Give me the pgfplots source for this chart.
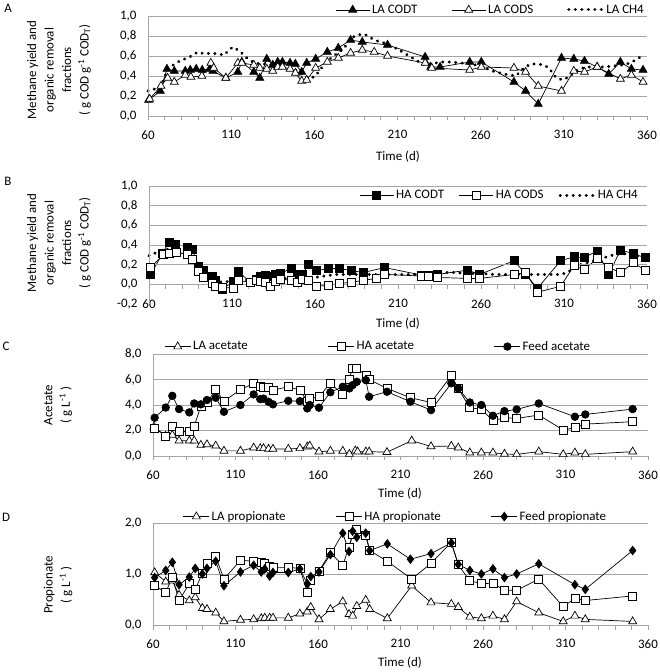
\documentclass[border=0pt]{standalone}
\usepackage{fontspec}
\setmainfont{Carlito}
\usepackage{pgfplots}
\pgfplotsset{compat=1.18}
\definecolor{axisgray}{RGB}{165,165,165}
\newcommand{\fs}{\fontsize{13}{17.5}\selectfont}

\pgfplotsset{
  panel/.style={
    scale only axis,
    xmin=60, xmax=360,
    xtick={60,110,...,360},
    major tick length=0pt, minor tick length=0pt,
    tick style={draw=none},
    axis line style={draw=none},
    major grid style={draw=axisgray, line width=0.8pt},
    tick label style={font=\fs},
    /pgf/number format/assume math mode=true,
    yticklabel style={xshift=-8bp},
    xticklabel style={yshift=-11bp},
    clip=false,
    legend style={font=\fs, draw=none, fill=none, legend columns=3, inner sep=1bp},
    legend cell align=left,
    legend image code/.code={\draw[mark repeat=2, mark phase=2, ##1] plot coordinates {(0bp,0bp) (17bp,0bp) (34bp,0bp)};},
  },
  codt/.style={black, line width=0.7pt, mark=triangle*, mark size=4.6bp, mark options={fill=black, solid}},
  cods/.style={black, line width=0.7pt, mark=triangle*, mark size=4.6bp, mark options={fill=white, solid}},
  sqf/.style={black, line width=0.7pt, mark=square*, mark size=4bp, mark options={fill=black, solid}},
  sqo/.style={black, line width=0.7pt, mark=square*, mark size=4bp, mark options={fill=white, solid}},
  circf/.style={black, line width=0.7pt, mark=*, mark size=3.8bp, mark options={fill=black, solid}},
  diaf/.style={black, line width=0.7pt, mark=diamond*, mark size=4.3bp, mark options={fill=black, solid}},
  ch4/.style={black, line width=3.2pt, line cap=round, dash pattern=on 0.1pt off 6.4bp, mark=none},
}
\newcommand{\deco}{%
  \draw[axisgray, line width=0.8pt] (rel axis cs:0,0) -- (rel axis cs:0,1);
  \draw[axisgray, line width=0.8pt] (axis cs:60,0) -- (axis cs:360,0);
  \pgfplotsinvokeforeach{60,70,...,360}{\draw[axisgray, line width=0.8pt] (axis cs:##1,0) -- ++(0pt,-4.5bp);}}

\begin{document}
\begin{tikzpicture}
\useasboundingbox (0bp,0bp) rectangle (660bp,672bp);

% ---------------- Panel A ----------------
\begin{axis}[panel, at={(148bp,556bp)}, anchor=south west, width=499bp, height=100bp,
  ymin=0, ymax=1, ytick={0,0.2,0.4,0.6,0.8,1.0}, ymajorgrids,
  yticklabels={{0,0},{0,2},{0,4},{0,6},{0,8},{1,0}},
  legend style={at={(1,1)}, anchor=south east, yshift=-2bp, /tikz/every even column/.append style={column sep=32bp}}]
\addplot[codt] coordinates {(60.4,0.16)(67.4,0.25)(71.4,0.47)(75.8,0.45)(82.4,0.45)(85.4,0.46)(89,0.47)(92.6,0.46)(97.4,0.47)(99,0.45)(106.8,0.38)(114,0.44)(116.4,0.54)(123.6,0.44)(127.2,0.38)(131.4,0.57)(135,0.51)(138,0.54)(140.8,0.54)(145.4,0.53)(148.6,0.52)(152.4,0.44)(155.4,0.53)(160.8,0.57)(167.8,0.64)(174.4,0.68)(181.8,0.76)(188.8,0.74)(204,0.71)(226.6,0.59)(230,0.49)(235.6,0.49)(253.4,0.54)(260.4,0.54)(280,0.34)(287,0.25)(294.6,0.12)(308.6,0.58)(316,0.57)(322.4,0.55)(330,0.49)(337,0.42)(344,0.54)(350.6,0.47)(357.6,0.46)};
\addlegendentry{LA CODT}
\addplot[cods] coordinates {(61,0.17)(67.8,0.30)(71.8,0.38)(75.8,0.34)(82.4,0.41)(85.8,0.39)(92.4,0.40)(97.8,0.53)(99.5,0.48)(106.8,0.38)(114,0.53)(116.4,0.53)(123.6,0.51)(127.2,0.48)(131.4,0.47)(135,0.45)(138,0.49)(140.8,0.49)(145.4,0.47)(148.6,0.43)(152.4,0.35)(155.4,0.36)(160.8,0.48)(167.8,0.54)(174.4,0.58)(181.8,0.63)(188.8,0.66)(196,0.64)(204,0.60)(226.6,0.53)(230.6,0.48)(253.4,0.46)(260.4,0.49)(280,0.48)(287,0.44)(294.6,0.30)(308.6,0.25)(316,0.45)(322.4,0.44)(330,0.49)(344,0.37)(350.6,0.41)(357.6,0.34)};
\addlegendentry{LA CODS}
\addplot[ch4] coordinates {(60,0.25)(64,0.27)(68,0.30)(72,0.47)(76,0.52)(80,0.56)(84,0.58)(88,0.62)(90,0.64)(94,0.62)(98,0.63)(102,0.62)(106,0.61)(108,0.65)(111,0.69)(114,0.66)(117,0.62)(120,0.57)(124,0.53)(128,0.52)(132,0.52)(136,0.50)(140,0.50)(144,0.49)(148,0.47)(152,0.42)(156,0.38)(160,0.39)(163,0.45)(166,0.52)(170,0.58)(174,0.63)(178,0.68)(182,0.78)(186,0.81)(190,0.82)(194,0.78)(198,0.75)(202,0.73)(206,0.70)(210,0.67)(214,0.63)(218,0.59)(222,0.55)(226,0.51)(230,0.52)(236,0.54)(242,0.54)(248,0.53)(254,0.52)(260,0.50)(267,0.45)(274,0.42)(281,0.40)(286,0.48)(290,0.52)(294,0.52)(298,0.51)(301,0.48)(305,0.39)(309,0.36)(313,0.39)(317,0.45)(323,0.49)(328,0.49)(334,0.49)(340,0.50)(345,0.51)(350,0.53)(356,0.59)};
\addlegendentry{LA CH4}
\deco
\end{axis}

% ---------------- Panel B ----------------
\begin{axis}[panel, at={(149bp,368bp)}, anchor=south west, width=498bp, height=118bp,
  ymin=-0.2, ymax=1, ytick={-0.2,0,0.2,0.4,0.6,0.8,1.0},
  yticklabels={{-0,2},{0,0},{0,2},{0,4},{0,6},{0,8},{1,0}},
  xticklabel style={yshift=19bp},
  legend style={at={(1,1)}, anchor=north east, xshift=-6bp, yshift=-1bp, /tikz/every even column/.append style={column sep=13bp}}]
\addplot[sqf] coordinates {(61,0.10)(68,0.31)(72,0.43)(76,0.41)(83,0.38)(86,0.36)(90,0.18)(93,0.14)(98,0.08)(100,0.04)(104,-0.05)(111,0.03)(114,0.13)(121,0.02)(124.4,0.05)(127,0.08)(130,0.09)(133,0.08)(136,0.10)(139,0.11)(145.5,0.16)(149.5,0.10)(152.5,0.10)(156,0.20)(161,0.14)(168,0.16)(174.7,0.16)(181.7,0.14)(189,0.12)(202,0.17)(224,0.095)(228.5,0.095)(233.6,0.10)(252,0.145)(259,0.10)(280,0.24)(287,0.10)(294,-0.04)(308,0.24)(316,0.28)(322,0.27)(330,0.34)(337,0.10)(344,0.35)(352,0.31)(359,0.27)};
\addlegendentry{HA CODT}
\addplot[sqo] coordinates {(61,0.17)(68.5,0.30)(72.5,0.32)(76.5,0.33)(83,0.30)(86,0.25)(90,0.13)(93,0.07)(98,0.01)(100,-0.02)(104,-0.03)(111,-0.04)(114,0.04)(121,0.02)(124.4,0.04)(127,0.03)(130,0.02)(133,-0.02)(136,0.03)(139,0.05)(145.5,0.045)(149.5,0.02)(152.5,0.05)(156,0.04)(161,-0.02)(168,-0.01)(174.7,0.01)(181.7,0.02)(189,0.04)(197,0.06)(202,0.10)(224,0.085)(228.5,0.08)(233.6,0.07)(252,0.06)(259,0.06)(280,0.10)(287,0.12)(294,-0.08)(308,-0.02)(316,0.19)(322,0.15)(330,0.26)(337,0.17)(344,0.12)(352,0.22)(359,0.14)};
\addlegendentry{HA CODS}
\addplot[ch4] coordinates {(60,0.29)(64,0.32)(68,0.34)(72,0.36)(76,0.35)(80,0.32)(84,0.28)(88,0.20)(92,0.12)(96,0.07)(100,0.04)(104,0.02)(108,0.03)(112,0.04)(116,0.05)(120,0.04)(124,0.05)(128,0.06)(132,0.06)(136,0.07)(140,0.06)(144,0.06)(148,0.05)(152,0.05)(156,0.06)(160,0.07)(164,0.08)(168,0.09)(172,0.10)(180,0.10)(190,0.10)(200,0.10)(210,0.10)(220,0.10)(230,0.10)(236,0.12)(244,0.12)(252,0.11)(260,0.11)(268,0.10)(276,0.10)(284,0.10)(292,0.10)(300,0.10)(308,0.10)(312,0.12)(316,0.17)(320,0.20)(324,0.22)(328,0.24)(332,0.26)(336,0.28)(340,0.30)(344,0.31)(348,0.31)(352,0.30)(356,0.28)};
\addlegendentry{HA CH4}
\pgfplotsinvokeforeach{0.2,0.4,0.6,0.8,1.0}{\draw[axisgray, line width=0.8pt] (axis cs:60,#1) -- (axis cs:360,#1);}
\deco
\end{axis}

% ---------------- Panel C ----------------
\begin{axis}[panel, at={(153bp,216bp)}, anchor=south west, width=495bp, height=102bp,
  ymin=0, ymax=8, ytick={0,2,4,6,8}, ymajorgrids,
  yticklabels={{0,0},{2,0},{4,0},{6,0},{8,0}},
  legend style={at={(0.455,1)}, anchor=south, yshift=-1bp, /tikz/every even column/.append style={column sep=78bp}},
  legend image code/.code={\draw[mark repeat=2, mark phase=2, #1] plot coordinates {(0bp,0bp) (13bp,0bp) (26bp,0bp)};}]
\addplot[cods] coordinates {(60.6,2.3)(67.7,1.57)(71.7,1.65)(75.8,1.2)(82,1.2)(85,1.2)(89,0.86)(92.7,0.9)(98,0.8)(103,0.4)(113,0.4)(121,0.65)(125,0.6)(127,0.6)(130,0.55)(132.7,0.55)(142,0.55)(149,0.6)(153.5,0.73)(155,0.8)(160.6,0.34)(167.5,0.4)(175,0.4)(179,0.15)(182.6,0.42)(184,0.34)(189,0.34)(191,0.34)(201.8,0.3)(216.8,1.2)(228.5,0.75)(240.8,0.78)(245,0.65)(252,0.26)(259,0.26)(266,0.26)(273,0.16)(280.4,0.13)(293.8,0.34)(308.6,0.13)(315.7,0.26)(322,0.13)(350.7,0.34)};
\addlegendentry{LA acetate}
\addplot[sqo] coordinates {(61,2.2)(67.7,1.57)(71.7,2.35)(75.8,1.96)(82,1.9)(85,2.35)(89,3.9)(92.7,4.2)(98,5.2)(103,4.3)(113,5.2)(121,5.7)(125,5.5)(127,5.35)(130,5.35)(132.7,5.17)(142,5.43)(149,5.17)(153.5,4.3)(155,4.5)(160.6,4.65)(167.5,5.7)(175,4.83)(178.8,6.03)(181,6.87)(183.5,6.87)(189,6.35)(191,6.0)(201.8,5.3)(216,4.57)(228.5,4.2)(240.8,6.3)(245,5.3)(252,3.79)(259,3.66)(266,2.77)(273,3.0)(280.4,2.95)(293.8,3.21)(308.6,2.04)(315.7,2.22)(322,2.5)(350.7,2.69)};
\addlegendentry{HA acetate}
\addplot[circf] coordinates {(61,3.0)(67.7,3.8)(71.7,4.72)(75.8,3.68)(82,3.42)(85,4.12)(89,4.05)(92.7,4.39)(98,4.57)(103,3.47)(113,4.0)(121,4.83)(125,4.46)(127,4.5)(130,4.25)(132.7,4.05)(142,4.33)(149,4.3)(153.5,3.73)(155,4.0)(160.6,3.79)(167.5,5.0)(175,5.43)(179,5.3)(181,5.56)(183.5,5.82)(189,5.95)(191,4.65)(201.8,5.04)(216,4.26)(228.5,3.6)(240.8,5.7)(245,5.3)(252,4.2)(259,4.0)(266,3.16)(273,3.52)(280.4,3.65)(293.8,4.12)(315.7,3.08)(322,3.26)(350.7,3.68)};
\addlegendentry{Feed acetate}
\deco
\end{axis}

% ---------------- Panel D ----------------
\begin{axis}[panel, at={(153bp,47bp)}, anchor=south west, width=495bp, height=102bp,
  ymin=0, ymax=2, ytick={0,1,2}, ymajorgrids,
  yticklabels={{0,0},{1,0},{2,0}},
  legend style={at={(0.49,1)}, anchor=south, yshift=-2bp, /tikz/every even column/.append style={column sep=48bp}},
  legend image code/.code={\draw[mark repeat=2, mark phase=2, #1] plot coordinates {(0bp,0bp) (13bp,0bp) (26bp,0bp)};}]
\addplot[cods] coordinates {(61,1.03)(67.7,0.85)(71.7,0.87)(75.8,0.59)(82,0.48)(85.6,0.54)(89.9,0.33)(92.7,0.31)(98,0.24)(103,0.07)(113,0.1)(121,0.11)(125.6,0.13)(127.7,0.14)(130.7,0.14)(132.7,0.14)(142,0.14)(149,0.22)(153.5,0.26)(155.6,0.35)(160.6,0.11)(167.5,0.31)(175,0.46)(178.8,0.21)(181,0.18)(183.5,0.37)(188.9,0.49)(191.3,0.31)(202,0.13)(216.8,0.77)(228.5,0.44)(240.8,0.41)(245,0.35)(252,0.16)(259,0.13)(266,0.18)(273,0.11)(280.4,0.46)(293.8,0.24)(308.6,0.07)(315.7,0.18)(322,0.11)(350.7,0.07)};
\addlegendentry{LA propionate}
\addplot[sqo] coordinates {(61,0.77)(67.7,0.64)(71.7,0.93)(75.8,0.48)(82,0.81)(85.6,0.69)(89.9,1.02)(92.7,1.2)(98,1.34)(103,0.90)(113,1.27)(121,1.25)(125.6,1.22)(127.7,1.21)(130.7,1.15)(132.7,1.13)(142,1.13)(149,1.11)(153.5,0.64)(155.6,0.87)(160.6,1.06)(167.5,1.42)(175,1.17)(178.8,1.53)(181,1.78)(183.5,1.88)(188.9,1.75)(191.3,1.46)(202,1.25)(216.8,0.9)(228.5,1.21)(240.8,1.62)(245,1.18)(252,0.87)(259,0.81)(266,0.82)(273,0.68)(280.4,0.68)(293.8,0.9)(308.6,0.36)(315.7,0.52)(322,0.48)(350.7,0.57)};
\addlegendentry{HA propionate}
\addplot[diaf] coordinates {(61,0.93)(67.7,1.07)(71.7,1.23)(75.8,0.79)(82,0.94)(85.6,1.11)(89.9,1.0)(92.7,1.11)(98,1.25)(103,0.77)(113,1.04)(121,1.17)(125.6,1.04)(127.7,1.1)(130.7,0.96)(132.7,1.03)(142,1.03)(149,1.1)(153.5,0.81)(155.6,0.95)(160.6,1.04)(167.5,1.38)(175,1.8)(178.8,1.44)(181,1.84)(183.5,1.72)(188.9,1.8)(191.3,1.46)(202,1.59)(216,1.29)(228.5,1.4)(240.8,1.61)(245,1.19)(252,1.07)(259,1.0)(266,1.1)(273,0.93)(280.4,1.0)(293.8,1.2)(315.7,0.79)(322,0.7)(350.7,1.46)};
\addlegendentry{Feed propionate}
\deco
\end{axis}

% ---------------- labels ----------------
\node[font=\fs, rotate=90, align=center] at (59bp,602bp) {Methane yield and\\organic removal\\fractions\\( g COD g\textsuperscript{-1} COD\textsubscript{T})};
\node[font=\fs, rotate=90, align=center] at (59bp,429bp) {Methane yield and\\organic removal\\fractions\\( g COD g\textsuperscript{-1} COD\textsubscript{T})};
\node[font=\fs, rotate=90, align=center] at (58bp,267bp) {Acetate\\( g L\textsuperscript{-1} )};
\node[font=\fs, rotate=90, align=center] at (58bp,87bp) {Propionate\\( g L\textsuperscript{-1} )};
\node[font=\fs] at (398bp,515bp) {Time (d)};
\node[font=\fs] at (398bp,348bp) {Time (d)};
\node[font=\fs] at (400bp,178bp) {Time (d)};
\node[font=\fs] at (400bp,9bp) {Time (d)};
\node[font=\fs] at (8bp,664bp) {A};
\node[font=\fs] at (8bp,491bp) {B};
\node[font=\fs] at (6bp,326bp) {C};
\node[font=\fs] at (6bp,155bp) {D};
\end{tikzpicture}
\end{document}
